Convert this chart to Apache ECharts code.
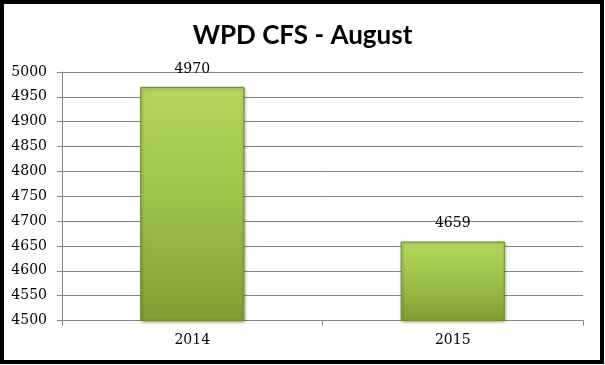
<!DOCTYPE html>
<html>
<head>
<meta charset="utf-8">
<script src="https://cdn.jsdelivr.net/npm/echarts@6/dist/echarts.min.js"></script>
<style>
html,body{margin:0;padding:0;background:#fff;}
#chart{width:605px;height:365px;}
</style>
</head>
<body>
<div id="chart"></div>
<script>
const titleText = 'WPD CFS - August';
const categories = ['2014', '2015'];
const values = [4970, 4659];
const yMin = 4500, yMax = 5000, yStep = 50;

const chart = echarts.init(document.getElementById('chart'), null, {renderer: 'canvas'});
const serif = '"DejaVu Serif", "Liberation Serif", serif';
chart.setOption({
  animation: false,
  backgroundColor: '#ffffff',
  title: {
    text: titleText,
    left: 'center',
    top: 18,
    textStyle: {fontFamily: 'Lato, "Open Sans", sans-serif', fontWeight: 'bold', fontSize: 26, color: '#000'}
  },
  graphic: [{
    type: 'rect',
    shape: {x: 2, y: 2, width: 600, height: 360},
    style: {fill: 'none', stroke: '#000', lineWidth: 4},
    silent: true
  }],
  grid: {left: 62, right: 22, top: 72, bottom: 44.5, containLabel: false},
  xAxis: {
    type: 'category',
    data: categories,
    axisLine: {lineStyle: {color: '#868686', width: 1}},
    axisTick: {show: true, length: 5, lineStyle: {color: '#868686'}},
    axisLabel: {fontFamily: serif, fontSize: 14, color: '#000', margin: 13}
  },
  yAxis: {
    type: 'value',
    min: yMin, max: yMax, interval: yStep,
    axisLine: {show: true, lineStyle: {color: '#868686', width: 1}},
    axisTick: {show: true, length: 5, lineStyle: {color: '#868686'}},
    splitLine: {show: true, lineStyle: {color: '#868686', width: 1}},
    axisLabel: {fontFamily: serif, fontSize: 14, color: '#000', margin: 15, formatter: v => String(v)}
  },
  series: [{
    type: 'bar',
    data: values,
    barWidth: '40%',
    itemStyle: {
      color: new echarts.graphic.LinearGradient(0, 0, 0, 1, [
        {offset: 0, color: '#b3d75c'},
        {offset: 0.5, color: '#9cc24a'},
        {offset: 1, color: '#7f9e33'}
      ]),
      borderColor: '#6f8c2a',
      borderWidth: 1,
      shadowColor: 'rgba(0,0,0,0.35)',
      shadowBlur: 3,
      shadowOffsetX: 1,
      shadowOffsetY: 1
    },
    label: {show: true, position: 'top', distance: 11, fontFamily: serif, fontSize: 14, color: '#000'}
  }]
});
</script>
</body>
</html>
